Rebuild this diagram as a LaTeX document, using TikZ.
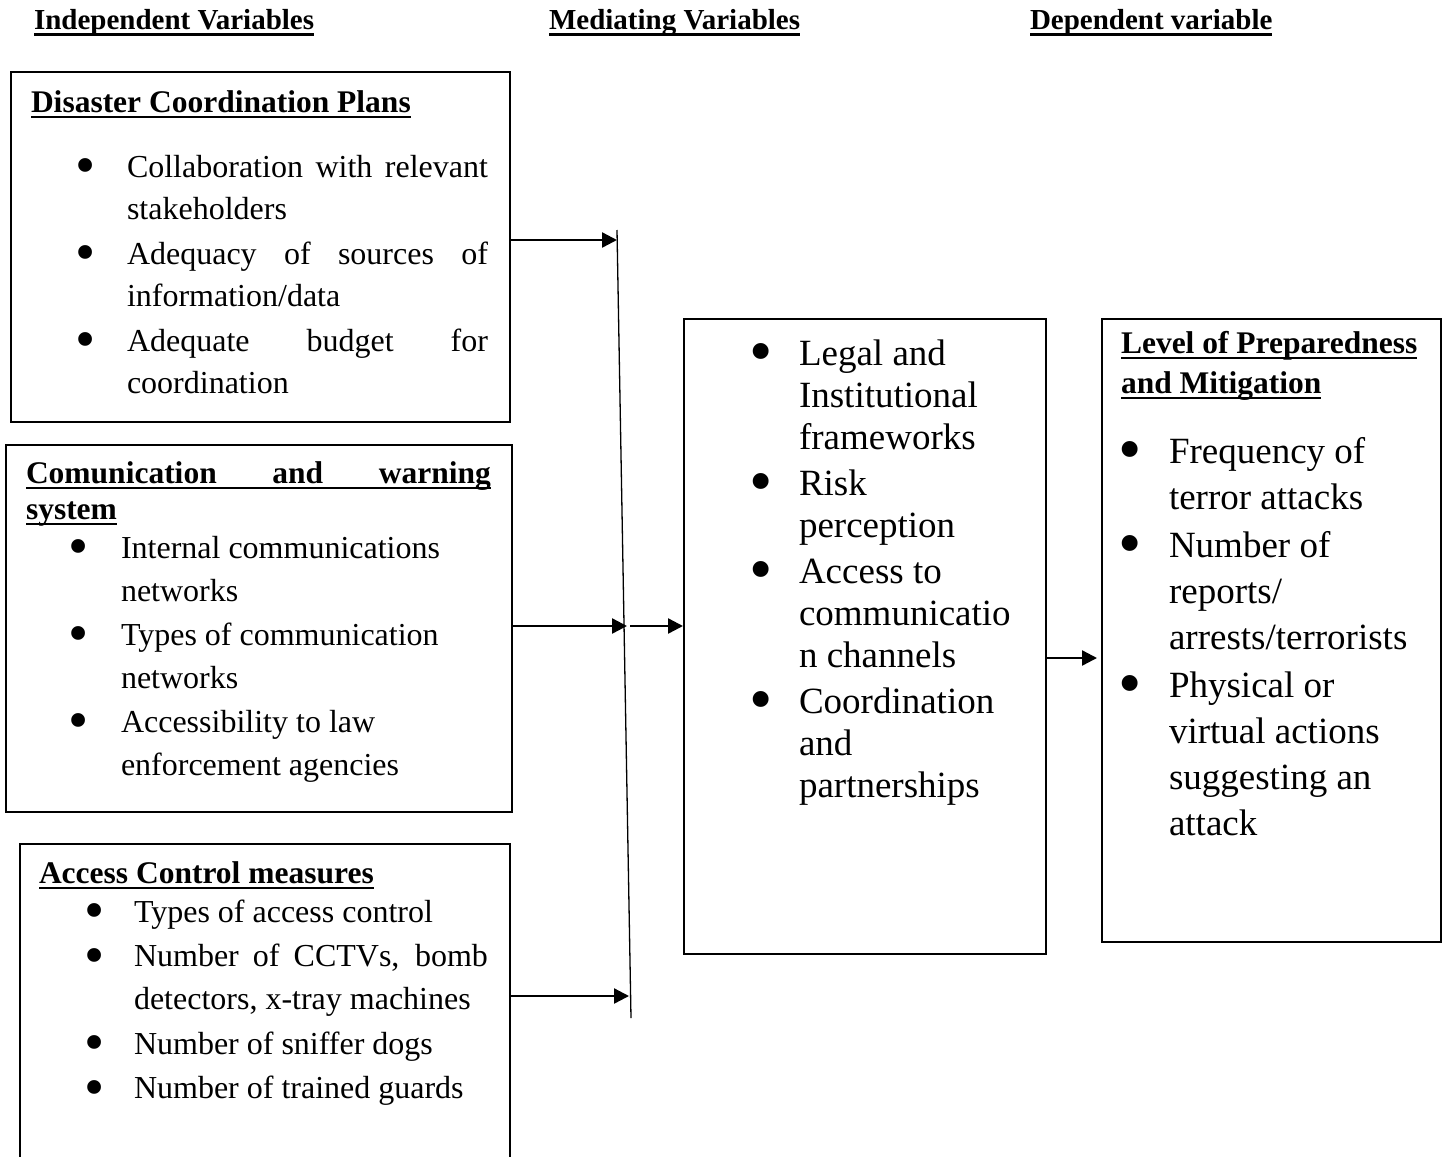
\documentclass[tikz,border=0pt]{standalone}
\usepackage{fontspec}
\setmainfont{Liberation Serif}
\usetikzlibrary{arrows.meta}
\newcommand\myul[2][2pt]{\leavevmode\setbox0\hbox{#2}\rlap{\rule[-6pt]{\wd0}{#1}}\box0}
\newcommand\bul[1]{\leavevmode\llap{\makebox[0pt]{\smash{\raisebox{-0.24em}{\scalebox{1.8}{\textbullet}}}}\hspace{#1}}}
\tikzset{
  framebox/.style={draw, line width=1.8pt, rectangle, anchor=north west, inner sep=0pt},
  txt/.style={anchor=base west, inner sep=0pt, outer sep=0pt},
  arr/.style={line width=2.4pt, -{Triangle[length=15pt,width=15pt]}},
  vline/.style={line width=1.3pt}
}
\begin{document}
\begin{tikzpicture}[x=1pt,y=-1pt]
\useasboundingbox (0,0) rectangle (1442,1156);
\fill[white] (0,0) rectangle (1442,1156);

% top headers
\node[txt] (hi) at (34,30) {\fontsize{29}{34}\selectfont\bfseries\myul[2.6pt]{Independent Variables}};
\node[txt] (hm) at (549,30) {\fontsize{29}{34}\selectfont\bfseries\myul[2.6pt]{Mediating Variables}};
\node[txt] (hd) at (1030,30) {\fontsize{29}{34}\selectfont\bfseries\myul[2.6pt]{Dependent variable}};

% boxes
\node[framebox, minimum width=499, minimum height=350] (b1) at (10,71) {};
\node[framebox, minimum width=506, minimum height=367] (b2) at (5,444) {};
\begin{scope}
\clip (0,0) rectangle (1442,1156);
\node[framebox, minimum width=490, minimum height=340] (b3) at (19,843) {};
\end{scope}
\node[framebox, minimum width=362, minimum height=635] (mid) at (683,318) {};
\node[framebox, minimum width=339, minimum height=623] (dep) at (1101,318) {};

% box 1
\node[txt] (h1) at (31,112) {\fontsize{31.5}{40}\selectfont\bfseries\myul{Disaster Coordination Plans}};
\node[txt] (l1) at (127,177) {\parbox[t]{361pt}{\fontsize{32}{42}\selectfont\raggedright
\bul{41pt}\makebox[361pt][s]{Collaboration with relevant}\\
stakeholders\\[3pt]
\bul{41pt}\makebox[361pt][s]{Adequacy of sources of}\\
information/data\\[3pt]
\bul{41pt}\makebox[361pt][s]{Adequate budget for}\\
coordination}};

% box 2
\node[txt] (h2) at (26,483) {\parbox[t]{465pt}{\fontsize{31.5}{36}\selectfont\bfseries\raggedright
\myul{\makebox[465pt][s]{Comunication and warning}}\\
\myul{system}}};
\node[txt] (l2) at (121,558) {\parbox[t]{370pt}{\fontsize{32}{43}\selectfont\raggedright
\bul{42pt}Internal communications\\
networks\\[1pt]
\bul{42pt}Types of communication\\
networks\\[1pt]
\bul{42pt}Accessibility to law\\
enforcement agencies}};

% box 3
\node[txt] (h3) at (39,883) {\fontsize{31.5}{40}\selectfont\bfseries\myul{Access Control measures}};
\node[txt] (l3) at (134,922) {\parbox[t]{354pt}{\fontsize{32}{43}\selectfont\raggedright
\bul{39pt}Types of access control\\[1.5pt]
\bul{39pt}\makebox[354pt][s]{Number of CCTVs, bomb}\\
detectors, x-tray machines\\[1.5pt]
\bul{39pt}Number of sniffer dogs\\[1.5pt]
\bul{39pt}Number of trained guards}};

% mediating box
\node[txt] (lm) at (799,365) {\parbox[t]{230pt}{\fontsize{37}{42}\selectfont\raggedright
\bul{38pt}Legal and\\
Institutional\\
frameworks\\[4pt]
\bul{38pt}Risk\\
perception\\[4pt]
\bul{38pt}Access to\\
communicatio\\
n channels\\[4pt]
\bul{38pt}Coordination\\
and\\
partnerships}};

% dependent box
\node[txt] (hdp) at (1121,353) {\parbox[t]{310pt}{\fontsize{31.5}{40}\selectfont\bfseries\raggedright
\myul{Level of Preparedness}\\
\myul{and Mitigation}}};
\node[txt] (ld) at (1169,463) {\parbox[t]{260pt}{\fontsize{37}{46}\selectfont\raggedright
\bul{39pt}Frequency of\\
terror attacks\\[2pt]
\bul{39pt}Number of\\
reports/\\
arrests/terrorists\\[2pt]
\bul{39pt}Physical or\\
virtual actions\\
suggesting an\\
attack}};

% vertical collector line
\coordinate (vt) at (617,230);
\coordinate (vb) at (631,1018);
\draw[vline] (vt) -- (vb);

% arrow tips
\coordinate (t1) at (617,240);
\coordinate (t2) at (627,626);
\coordinate (s2) at (630,626);
\coordinate (t3) at (629,996);
\coordinate (t4) at (1097,658);

\draw[arr] (b1.east |- t1) -- (t1);
\draw[arr] (b2.east |- t2) -- (t2);
\draw[arr] (s2) -- (mid.west |- s2);
\draw[arr] (b3.east |- t3) -- (t3);
\draw[arr] (mid.east |- t4) -- (t4);
\end{tikzpicture}
\end{document}
